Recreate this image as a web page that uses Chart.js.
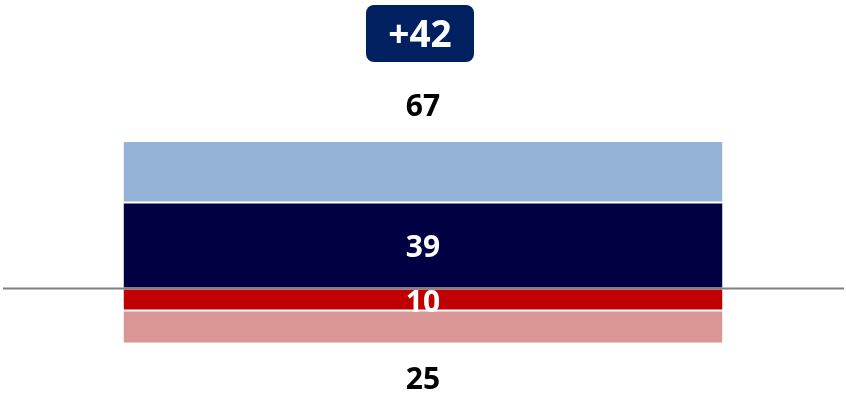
<!DOCTYPE html>
<html>
<head>
<meta charset="utf-8">
<script src="https://cdn.jsdelivr.net/npm/chart.js@4/dist/chart.umd.min.js"></script>
<style>
  html, body { margin: 0; padding: 0; background: #fff; }
  #wrap { width: 846px; height: 403px; }
</style>
</head>
<body>
<div id="wrap"><canvas id="netChart"></canvas></div>
<script>
//data
const categories = ['Net'];
const strongPos = [39];
const somewhatPos = [28];
const strongNeg = [-10];
const somewhatNeg = [-15];

const totalPos = strongPos[0] + somewhatPos[0];
const totalNeg = -(strongNeg[0] + somewhatNeg[0]);
const netValue = totalPos - totalNeg;

const labelFont = 'bold 30px "Open Sans", "Liberation Sans", sans-serif';

//labels, baseline and net box
const labelPlugin = {
    id: 'labelPlugin',
    afterDatasetsDraw(chart) {
        const ctx = chart.ctx;
        const y = chart.scales.y;
        const zero = y.getPixelForValue(0);
        const cx = chart.getDatasetMeta(0).data[0].x;

        // baseline
        ctx.save();
        ctx.strokeStyle = '#808080';
        ctx.lineWidth = 2;
        ctx.beginPath();
        ctx.moveTo(3, zero);
        ctx.lineTo(844, zero);
        ctx.stroke();

        ctx.textAlign = 'center';
        ctx.textBaseline = 'middle';
        ctx.font = labelFont;

        // totals
        ctx.fillStyle = '#000000';
        ctx.fillText(totalPos, cx, y.getPixelForValue(totalPos) - 33);
        ctx.fillText(totalNeg, cx, y.getPixelForValue(-totalNeg) + 37);

        // inner labels
        ctx.fillStyle = '#ffffff';
        ctx.fillText(strongPos[0], cx, y.getPixelForValue(strongPos[0] / 2) + 3);
        ctx.fillText(-strongNeg[0], cx, y.getPixelForValue(strongNeg[0] / 2) + 4);

        // net box
        ctx.fillStyle = '#002060';
        ctx.beginPath();
        ctx.roundRect(cx - 57, 5, 108, 57, 8);
        ctx.fill();
        ctx.fillStyle = '#ffffff';
        ctx.font = 'bold 37px "Open Sans", "Liberation Sans", sans-serif';
        ctx.fillText((netValue > 0 ? '+' : '') + netValue, cx - 3, 36);
        ctx.restore();
    }
};

const makeSet = (label, data, color) => ({
    label: label,
    data: data,
    backgroundColor: color,
    borderColor: '#ffffff',
    borderWidth: { top: 1, bottom: 1, left: 0, right: 0 },
    borderSkipped: false,
    stack: 'one'
});

const netGraph = () => {
    var ctx = document.getElementById('netChart').getContext('2d');
    var chart = new Chart(ctx, {
        type: 'bar',
        data: {
            labels: categories,
            datasets: [
                makeSet('Strong positive', strongPos, '#000042'),
                makeSet('Somewhat positive', somewhatPos, '#95B3D7'),
                makeSet('Strong negative', strongNeg, '#C00000'),
                makeSet('Somewhat negative', somewhatNeg, '#DA9694')
            ]
        },
        options: {
            responsive: true,
            maintainAspectRatio: false,
            animation: false,
            datasets: {
                bar: { barPercentage: 0.708, categoryPercentage: 1 }
            },
            layout: { padding: 0 },
            plugins: {
                legend: { display: false },
                tooltip: { enabled: false }
            },
            scales: {
                x: { stacked: true, display: false },
                y: { stacked: true, display: false, min: -52, max: 131 }
            }
        },
        plugins: [labelPlugin]
    });
};
netGraph();
</script>
</body>
</html>
